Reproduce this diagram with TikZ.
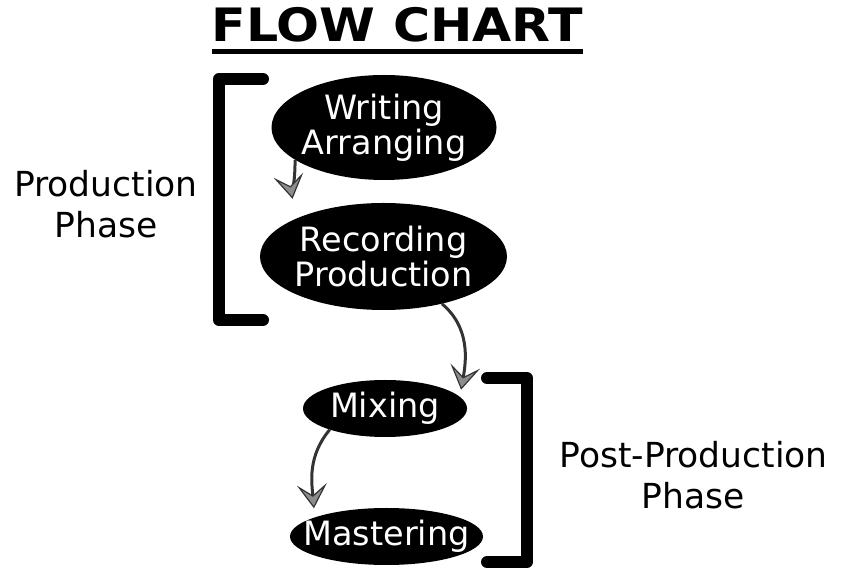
\documentclass[tikz,border=0pt]{standalone}
\usepackage{fontspec}
\setmainfont{DejaVu Sans}
\newfontfamily\titlefont[FakeStretch=1.1]{DejaVu Sans}
\usetikzlibrary{shapes.geometric,arrows.meta}

\begin{document}
\begin{tikzpicture}[x=1pt,y=1pt,
	blob/.style={ellipse,fill=black,text=white,inner xsep=-15pt,inner ysep=0pt,align=center,font=\fontsize{33.5}{35}\selectfont},
	phase/.style={align=center,inner sep=0pt,font=\fontsize{34.5}{41}\selectfont},
	flow/.style={draw=black!80,line width=3pt,-{Stealth[length=24pt,width=30pt,inset=11pt,line width=1.2pt,fill=black!45]}},
	bracket/.style={line width=12pt,line cap=round,line join=round}]
	\useasboundingbox (0,0) rectangle (844,570);
	% title
	\node [inner sep=0pt,anchor=base,font=\titlefont\fontsize{46}{46}\selectfont\bfseries] (title) at (397.5,528) {FLOW CHART};
	\draw [line width=5pt] ([yshift=-10pt]title.base west) -- ([yshift=-10pt]title.base east);
	% stages
	\node [blob,minimum width=225pt,minimum height=105pt] (write) at (384,442.5) {Writing\\Arranging};
	\node [blob,minimum width=247pt,minimum height=107pt] (record) at (383.5,313.5) {Recording\\Production};
	\node [blob,minimum width=164pt,minimum height=57pt] (mix) at (385,161.5) {Mixing};
	\node [blob,minimum width=193pt,minimum height=57pt] (master) at (386.5,33.5) {Mastering};
	\draw [flow,shorten >=20pt] (write.200) to[out=-90,in=100] (record.north west);
	\draw [flow,shorten >=7pt] (record.-39) to[out=-40,in=80] (mix.9);
	\draw [flow,shorten >=9pt] (mix.201) to[out=-130,in=95] (master.165);
	% phases
	\draw [bracket] (263,491) -- (219,491) -- (219,250) -- (263,250);
	\draw [bracket] (487,192) -- (527,192) -- (527,8) -- (487,8);
	\node [phase] (prod) at (106,365.5) {Production\\Phase};
	\node [phase] (post) at (693.5,95) {Post-Production\\Phase};
\end{tikzpicture}
\end{document}
